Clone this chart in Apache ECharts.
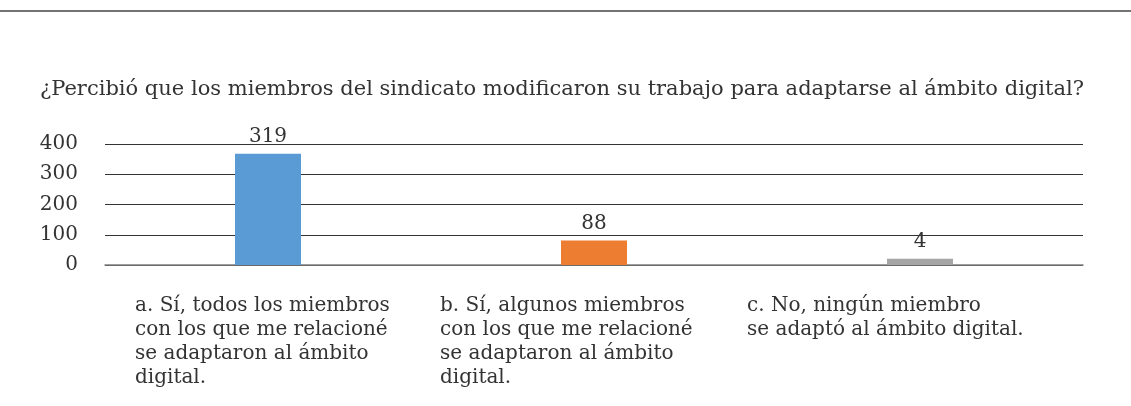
<!DOCTYPE html>
<html>
<head>
<meta charset="utf-8">
<style>
  html, body { margin: 0; padding: 0; background: #fff; }
  #chart { width: 1131px; height: 406px; }
</style>
<script src="https://cdn.jsdelivr.net/npm/echarts@6/dist/echarts.min.js"></script>
</head>
<body>
<div id="chart"></div>
<script>
const titleText = '¿Percibió que los miembros del sindicato modificaron su trabajo para adaptarse al ámbito digital?'
const categories = [
  'a. Sí, todos los miembros\ncon los que me relacioné\nse adaptaron al ámbito\ndigital.',
  'b. Sí, algunos miembros\ncon los que me relacioné\nse adaptaron al ámbito\ndigital.',
  'c. No, ningún miembro\nse adaptó al ámbito digital.',
]
// bar heights as drawn in the picture
const barValues = [368, 81, 21]
// numbers printed above the bars
const barLabels = ['319', '88', '4']
const barColors = ['#5b9bd5', '#ed7d31', '#a5a5a5']
const yTicks = [0, 100, 200, 300, 400]

const font = '"DejaVu Serif", "Liberation Serif", serif'
const chart = echarts.init(document.getElementById('chart'))

// label boxes are centred on each category, text sits at the box's left edge
const labelStyle = (w) => ({ width: w, align: 'left', fontFamily: font, fontSize: 20, lineHeight: 24, color: '#333' })

chart.setOption({
  animation: false,
  textStyle: { fontFamily: font },
  title: {
    text: titleText,
    left: 35,
    top: 74,
    textStyle: { fontFamily: font, fontSize: 21, fontWeight: 'normal', color: '#333' },
  },
  graphic: [
    {
      type: 'line',
      shape: { x1: 0, y1: 11, x2: 1131, y2: 11 },
      style: { stroke: '#444', lineWidth: 1.5 },
    },
  ],
  grid: { left: 105, right: 48, top: 144, bottom: 141 },
  xAxis: {
    type: 'category',
    data: categories,
    axisLine: { show: true, lineStyle: { color: '#7f7f7f', width: 1.5 } },
    axisTick: { show: false },
    axisLabel: {
      interval: 0,
      margin: 29,
      formatter: (v, i) => '{t' + i + '|' + v + '}',
      rich: { t0: labelStyle(266), t1: labelStyle(308), t2: labelStyle(346) },
    },
  },
  yAxis: {
    type: 'value',
    min: yTicks[0],
    max: yTicks[yTicks.length - 1],
    interval: 100,
    axisLine: { show: false },
    axisTick: { show: false },
    axisLabel: { margin: 27, fontFamily: font, fontSize: 20, color: '#333' },
    splitLine: { lineStyle: { color: '#333', width: 1.2 } },
  },
  series: [
    {
      type: 'bar',
      barWidth: 66,
      data: barValues.map((v, i) => ({ value: v, itemStyle: { color: barColors[i] } })),
      label: {
        show: true,
        position: 'top',
        distance: 7,
        formatter: (p) => barLabels[p.dataIndex],
        fontFamily: font,
        fontSize: 20,
        color: '#333',
      },
    },
  ],
})
</script>
</body>
</html>
